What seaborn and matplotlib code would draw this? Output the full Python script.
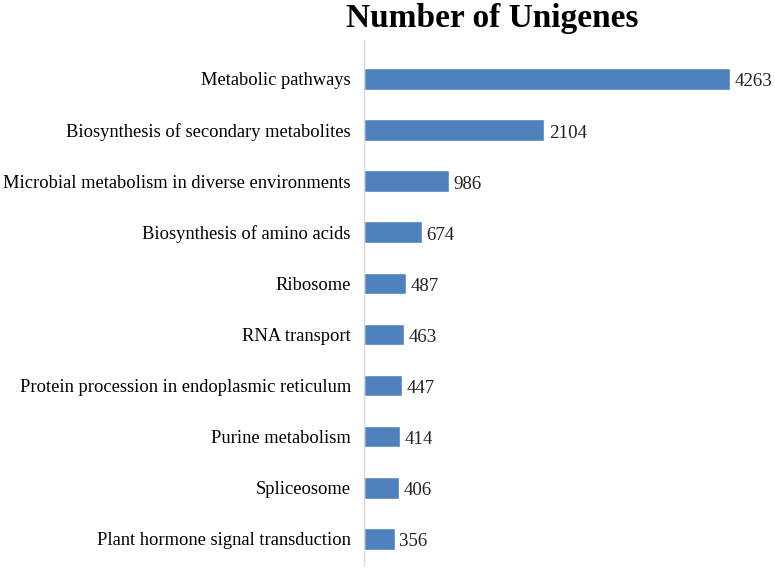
import pandas as pd
import matplotlib.pyplot as plt
import seaborn as sns

# === Dados ===
pathways = [
    "Metabolic pathways",
    "Biosynthesis of secondary metabolites",
    "Microbial metabolism in diverse environments",
    "Biosynthesis of amino acids",
    "Ribosome",
    "RNA transport",
    "Protein procession in endoplasmic reticulum",
    "Purine metabolism",
    "Spliceosome",
    "Plant hormone signal transduction",
]
unigenes = [4263, 2104, 986, 674, 487, 463, 447, 414, 406, 356]

df = pd.DataFrame({"pathway": pathways, "n": unigenes})

sns.set_style("white")
plt.rcParams['font.family'] = ['Liberation Serif', 'DejaVu Serif']
plt.rcParams['text.color'] = 'black'
plt.rcParams['ytick.color'] = 'black'

fig = plt.figure(figsize=(7.75, 5.69), dpi=100)
ax = fig.add_axes([364 / 775, 4 / 569, 386 / 775, 525 / 569])

sns.barplot(data=df, x="n", y="pathway", color="#4F81BD", width=0.42,
            saturation=1, ax=ax)

for i, v in enumerate(unigenes):
    ax.text(v + 55, i + 0.06, str(v), va="center", ha="left", fontsize=13.6,
            color="#222222")

ax.set_xlim(0, 4500)
ax.set_ylim(9.51, -0.76)
ax.set_xlabel("")
ax.set_ylabel("")
ax.set_xticks([])
ax.tick_params(axis="y", length=0, labelsize=13.3, pad=9.5, labelcolor="black")
for s in ["top", "right", "bottom"]:
    ax.spines[s].set_visible(False)
ax.spines["left"].set_color("#d9d9d9")
ax.spines["left"].set_linewidth(1)

fig.text(492 / 775, 1 - 18 / 569, "Number of Unigenes", ha="center",
         va="center", fontsize=24, fontweight="bold", color="black")

fig.savefig("out.png", dpi=100)
